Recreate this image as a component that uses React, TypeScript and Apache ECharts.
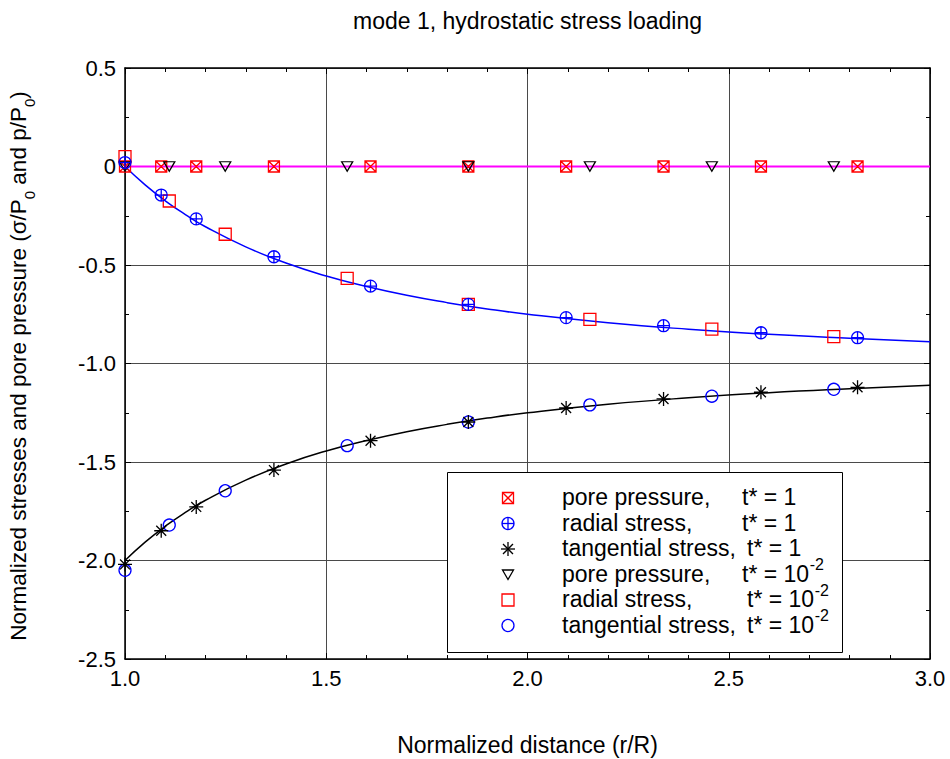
import React, { useEffect, useRef } from "react";
import * as echarts from "echarts";

// ---------- data ----------
const titleText = "mode 1, hydrostatic stress loading";
const xAxisTitle = "Normalized distance (r/R)";

// x positions of the markers
const rT1 = [1.0, 1.09, 1.177, 1.37, 1.61, 1.853, 2.096, 2.338, 2.58, 2.82];
const rT2 = [1.0, 1.11, 1.249, 1.552, 1.853, 2.155, 2.458, 2.761];

// t* = 1
const poreT1 = [0.0, 0.0, 0.0, 0.0, 0.0, 0.0, 0.0, 0.0, 0.0, 0.0];
const radialT1 = [0.02, -0.145, -0.266, -0.458, -0.607, -0.7, -0.767, -0.808, -0.844, -0.869];
const tangT1 = [-2.02, -1.849, -1.728, -1.541, -1.392, -1.297, -1.226, -1.18, -1.146, -1.121];

// t* = 1e-2
const poreT2 = [0.0, 0.0, 0.0, 0.0, 0.0, 0.0, 0.0, 0.0];
const radialT2 = [0.05, -0.175, -0.344, -0.568, -0.7, -0.776, -0.826, -0.864];
const tangT2 = [-2.05, -1.82, -1.646, -1.417, -1.297, -1.21, -1.166, -1.131];

// analytical curves
const rCurve = [1.0, 1.05, 1.1, 1.15, 1.2, 1.3, 1.4, 1.5, 1.6, 1.7, 1.8, 1.9, 2.0, 2.2, 2.4, 2.6, 2.8, 3.0];
const radialCurve = [0, -0.093, -0.174, -0.244, -0.306, -0.408, -0.49, -0.556, -0.609, -0.654, -0.691, -0.723, -0.75, -0.793, -0.826, -0.852, -0.872, -0.889];
const tangCurve = [-2.0, -1.907, -1.826, -1.756, -1.694, -1.592, -1.51, -1.444, -1.391, -1.346, -1.309, -1.277, -1.25, -1.207, -1.174, -1.148, -1.128, -1.111];
const rPoreCurve = [1.0, 3.0];
const poreCurve = [0, 0];

const legendNames = [
  "pore pressure,",
  "radial stress,",
  "tangential stress,",
  "pore pressure,",
  "radial stress,",
  "tangential stress,",
];
const legendTimes = ["t* = 1", "t* = 1", "t* = 1", "t* = 10", "t* = 10", "t* = 10"];
const legendExps = ["", "", "", "-2", "-2", "-2"];

// ---------- styles ----------
const FONT = '"Liberation Sans", Arial, Helvetica, sans-serif';
const RED = "#ff0000";
const BLUE = "#0000ff";
const BLACK = "#000000";
const MAGENTA = "#ff00ff";

const SYM_BOXX = "path://M0,0L10,0L10,10L0,10Z M0,0L10,10 M10,0L0,10";
const SYM_OPLUS = "path://M0,5A5,5 0 1 1 10,5A5,5 0 1 1 0,5Z M5,0L5,10 M0,5L10,5";
const SYM_STAR = "path://M5,0L5,10 M0,5L10,5 M1.46,1.46L8.54,8.54 M8.54,1.46L1.46,8.54";
const SYM_TRI = "path://M0,0L10,0L5,8.66Z";

const zip = (xs: number[], ys: number[]) => xs.map((x, i) => [x, ys[i]]);

function measure(text: string, font: string): number {
  const c = document.createElement("canvas");
  const ctx = c.getContext("2d");
  if (!ctx) return text.length * 11;
  ctx.font = font;
  return ctx.measureText(text).width;
}

function legendMarker(kind: string, cx: number, cy: number): any[] {
  const z = 101;
  const s = 5.5;
  const st = (c: string) => ({ fill: "none", stroke: c, lineWidth: 1.3 });
  switch (kind) {
    case "boxx":
      return [
        { type: "rect", z, shape: { x: cx - s, y: cy - s, width: 2 * s, height: 2 * s }, style: st(RED) },
        { type: "line", z, shape: { x1: cx - s, y1: cy - s, x2: cx + s, y2: cy + s }, style: st(RED) },
        { type: "line", z, shape: { x1: cx + s, y1: cy - s, x2: cx - s, y2: cy + s }, style: st(RED) },
      ];
    case "oplus":
      return [
        { type: "circle", z, shape: { cx, cy, r: 6 }, style: st(BLUE) },
        { type: "line", z, shape: { x1: cx - 6, y1: cy, x2: cx + 6, y2: cy }, style: st(BLUE) },
        { type: "line", z, shape: { x1: cx, y1: cy - 6, x2: cx, y2: cy + 6 }, style: st(BLUE) },
      ];
    case "star":
      return [
        { type: "line", z, shape: { x1: cx - 7, y1: cy, x2: cx + 7, y2: cy }, style: st(BLACK) },
        { type: "line", z, shape: { x1: cx, y1: cy - 7, x2: cx, y2: cy + 7 }, style: st(BLACK) },
        { type: "line", z, shape: { x1: cx - 5, y1: cy - 5, x2: cx + 5, y2: cy + 5 }, style: st(BLACK) },
        { type: "line", z, shape: { x1: cx + 5, y1: cy - 5, x2: cx - 5, y2: cy + 5 }, style: st(BLACK) },
      ];
    case "tri":
      return [
        {
          type: "polygon",
          z,
          shape: { points: [[cx - 5.5, cy - 4.5], [cx + 5.5, cy - 4.5], [cx, cy + 5]] },
          style: st(BLACK),
        },
      ];
    case "square":
      return [{ type: "rect", z, shape: { x: cx - 6, y: cy - 6, width: 12, height: 12 }, style: st(RED) }];
    default:
      return [{ type: "circle", z, shape: { cx, cy, r: 6 }, style: st(BLUE) }];
  }
}

export default function App() {
  const ref = useRef<HTMLDivElement>(null);

  useEffect(() => {
    if (!ref.current) return;
    const chart = echarts.init(ref.current, null, { renderer: "svg" });

    const axisCommon = {
      type: "value" as const,
      min: 1,
      max: 3,
      interval: 0.5,
    };
    const tickStyle = { color: BLACK, width: 1 };

    const scatterBase = (name: string, data: number[][], symbol: string, size: any, color: string) => ({
      name,
      type: "scatter",
      data,
      symbol,
      symbolSize: size,
      itemStyle: { color: "transparent", borderColor: color, borderWidth: 1.3, opacity: 1 },
      emphasis: { disabled: true },
      z: 3,
    });

    const legendFont = `23px ${FONT}`;
    const legendKinds = ["boxx", "oplus", "star", "tri", "square", "circle"];
    const legendX = 508;
    const legendRowY = [498, 523.5, 549, 574.5, 600, 625.5];
    const timeX = [742, 742, 747, 742, 747, 747];

    const legendGraphics: any[] = [
      {
        type: "rect",
        z: 100,
        shape: { x: 447.5, y: 472.5, width: 395, height: 180 },
        style: { fill: "#ffffff", stroke: BLACK, lineWidth: 1 },
      },
    ];
    legendKinds.forEach((k, i) => {
      legendGraphics.push(...legendMarker(k, legendX, legendRowY[i]));
      legendGraphics.push({
        type: "text",
        z: 101,
        x: 562,
        y: legendRowY[i] - 1,
        style: {
          text: legendNames[i],
          font: legendFont,
          fill: BLACK,
          align: "left",
          verticalAlign: "middle",
        },
      });
      legendGraphics.push({
        type: "text",
        z: 101,
        x: timeX[i],
        y: legendRowY[i] - 1,
        style: {
          text: legendTimes[i],
          font: legendFont,
          fill: BLACK,
          align: "left",
          verticalAlign: "middle",
        },
      });
      if (legendExps[i]) {
        const w = measure(legendTimes[i], legendFont);
        legendGraphics.push({
          type: "text",
          z: 101,
          x: timeX[i] + w + 0.5,
          y: legendRowY[i] - 10,
          style: {
            text: legendExps[i],
            font: `16px ${FONT}`,
            fill: BLACK,
            align: "left",
            verticalAlign: "middle",
          },
        });
      }
    });

    const option: any = {
      animation: false,
      backgroundColor: "#ffffff",
      grid: { left: 125, right: 20, top: 68, bottom: 100, containLabel: false },
      xAxis: [
        {
          ...axisCommon,
          position: "bottom",
          axisLine: { show: true, onZero: false, lineStyle: { color: BLACK, width: 1.5 } },
          axisTick: { show: true, inside: true, length: 6, lineStyle: tickStyle },
          minorTick: { show: true, splitNumber: 5, length: 4, lineStyle: tickStyle },
          axisLabel: {
            color: BLACK,
            fontSize: 22,
            fontFamily: FONT,
            margin: 8,
            formatter: (v: number) => v.toFixed(1),
          },
          splitLine: { show: true, lineStyle: { color: "#4a4a4a", width: 1 } },
        },
        {
          ...axisCommon,
          position: "top",
          axisLine: { show: true, onZero: false, lineStyle: { color: BLACK, width: 1.5 } },
          axisTick: { show: true, inside: true, length: 6, lineStyle: tickStyle },
          minorTick: { show: true, splitNumber: 5, length: 4, lineStyle: tickStyle },
          axisLabel: { show: false },
          splitLine: { show: false },
        },
      ],
      yAxis: [
        {
          type: "value",
          min: -2.5,
          max: 0.5,
          interval: 0.5,
          position: "left",
          axisLine: { show: true, onZero: false, lineStyle: { color: BLACK, width: 1.5 } },
          axisTick: { show: true, inside: true, length: 6, lineStyle: tickStyle },
          minorTick: { show: true, splitNumber: 2, length: 4, lineStyle: tickStyle },
          axisLabel: {
            color: BLACK,
            fontSize: 22,
            fontFamily: FONT,
            margin: 9,
            formatter: (v: number) => (Math.abs(v) < 1e-9 ? "0" : v.toFixed(1)),
          },
          splitLine: { show: true, lineStyle: { color: "#4a4a4a", width: 1 } },
        },
        {
          type: "value",
          min: -2.5,
          max: 0.5,
          interval: 0.5,
          position: "right",
          axisLine: { show: true, onZero: false, lineStyle: { color: BLACK, width: 1.5 } },
          axisTick: { show: true, inside: true, length: 6, lineStyle: tickStyle },
          minorTick: { show: true, splitNumber: 2, length: 4, lineStyle: tickStyle },
          axisLabel: { show: false },
          splitLine: { show: false },
        },
      ],
      series: [
        {
          name: "pore curve",
          type: "line",
          data: zip(rPoreCurve, poreCurve),
          showSymbol: false,
          lineStyle: { color: MAGENTA, width: 2 },
          z: 2,
        },
        {
          name: "radial curve",
          type: "line",
          smooth: true,
          data: zip(rCurve, radialCurve),
          showSymbol: false,
          lineStyle: { color: BLUE, width: 1.5 },
          z: 2,
        },
        {
          name: "tangential curve",
          type: "line",
          smooth: true,
          data: zip(rCurve, tangCurve),
          showSymbol: false,
          lineStyle: { color: BLACK, width: 1.5 },
          z: 2,
        },
        scatterBase("pore pressure, t* = 1", zip(rT1, poreT1), SYM_BOXX, 11, RED),
        scatterBase("radial stress, t* = 1e-2", zip(rT2, radialT2), "rect", 12, RED),
        scatterBase("tangential stress, t* = 1e-2", zip(rT2, tangT2), "circle", 12, BLUE),
        scatterBase("pore pressure, t* = 1e-2", zip(rT2, poreT2), SYM_TRI, [11, 9.5], BLACK),
        scatterBase("radial stress, t* = 1", zip(rT1, radialT1), SYM_OPLUS, 12, BLUE),
        scatterBase("tangential stress, t* = 1", zip(rT1, tangT1), SYM_STAR, 14, BLACK),
      ],
      graphic: [
        {
          type: "text",
          x: 527.5,
          y: 21,
          style: {
            text: titleText,
            font: `23px ${FONT}`,
            fill: BLACK,
            align: "center",
            verticalAlign: "middle",
          },
        },
        {
          type: "text",
          x: 527.5,
          y: 745,
          style: {
            text: xAxisTitle,
            font: `23px ${FONT}`,
            fill: BLACK,
            align: "center",
            verticalAlign: "middle",
          },
        },
        {
          type: "text",
          x: 22,
          y: 366,
          rotation: Math.PI / 2,
          style: {
            text: "{n|Normalized stresses and pore pressure (σ/P}{s|0}{n| and p/P}{s|0}{n|)}",
            align: "center",
            verticalAlign: "middle",
            fill: BLACK,
            rich: {
              n: { fontSize: 22.5, fontFamily: FONT, lineHeight: 30, verticalAlign: "top", fill: BLACK },
              s: { fontSize: 15, fontFamily: FONT, lineHeight: 15, verticalAlign: "bottom", fill: BLACK },
            },
          },
        },
        ...legendGraphics,
      ],
    };

    chart.setOption(option);
    return () => chart.dispose();
  }, []);

  return (
    <div
      ref={ref}
      style={{ position: "fixed", left: 0, top: 0, width: 950, height: 759 }}
    />
  );
}
